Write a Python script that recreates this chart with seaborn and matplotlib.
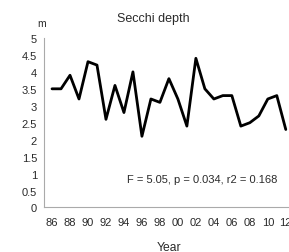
import matplotlib
matplotlib.use("Agg")
import matplotlib.pyplot as plt
import seaborn as sns
import pandas as pd

# Secchi depth by year, 1986-2012
years = list(range(1986, 2013))
depth = [3.5, 3.5, 3.9, 3.2, 4.3, 4.2, 2.6, 3.6, 2.8, 4.0,
         2.1, 3.2, 3.1, 3.8, 3.2, 2.4, 4.4, 3.5, 3.2, 3.3,
         3.3, 2.4, 2.5, 2.7, 3.2, 3.3, 2.3]
y_ticks = [0, 0.5, 1, 1.5, 2, 2.5, 3, 3.5, 4, 4.5, 5]
label_years = years[::2]
stats_text = 'F = 5.05, p = 0.034, r2 = 0.168'

df = pd.DataFrame({'Year': years, 'Depth': depth})

sns.set_style('white')
plt.rcParams['font.family'] = ['Liberation Sans', 'DejaVu Sans']

fig = plt.figure(figsize=(2.89, 2.53), dpi=100)
ax = fig.add_axes([0.152, 0.176, 0.868, 0.67])

sns.lineplot(data=df, x='Year', y='Depth', color='black', linewidth=2.0, ax=ax)

ax.set_xlim(1985.1, 2013)
ax.set_ylim(0, 5)
ax.set_yticks(y_ticks)
ax.set_yticklabels([f'{v:g}' for v in y_ticks])
ax.set_xticks(years, minor=True)
ax.set_xticks(label_years)
ax.set_xticklabels([f'{y % 100:02d}' for y in label_years])

for side in ['top', 'right']:
    ax.spines[side].set_visible(False)
for side in ['left', 'bottom']:
    ax.spines[side].set_color('#aaaaaa')
    ax.spines[side].set_linewidth(0.8)

ax.tick_params(axis='both', which='both', colors='#aaaaaa', labelcolor='#2a2a2a',
               labelsize=8, length=3, width=0.8, direction='out', pad=2)
ax.tick_params(axis='x', pad=4)
ax.grid(False)

ax.set_xlabel('Year', fontsize=8.7, color='#2a2a2a', labelpad=10)
ax.set_ylabel('')
ax.text(-0.01, 1.06, 'm', transform=ax.transAxes, fontsize=7.5, color='#2a2a2a',
        ha='center', va='bottom')
ax.set_title('Secchi depth', fontsize=9, color='#2a2a2a', pad=12, x=0.435)
ax.text(1994.3, 0.85, stats_text, fontsize=8, color='#2a2a2a', va='center')

fig.savefig('out.png', dpi=100)
